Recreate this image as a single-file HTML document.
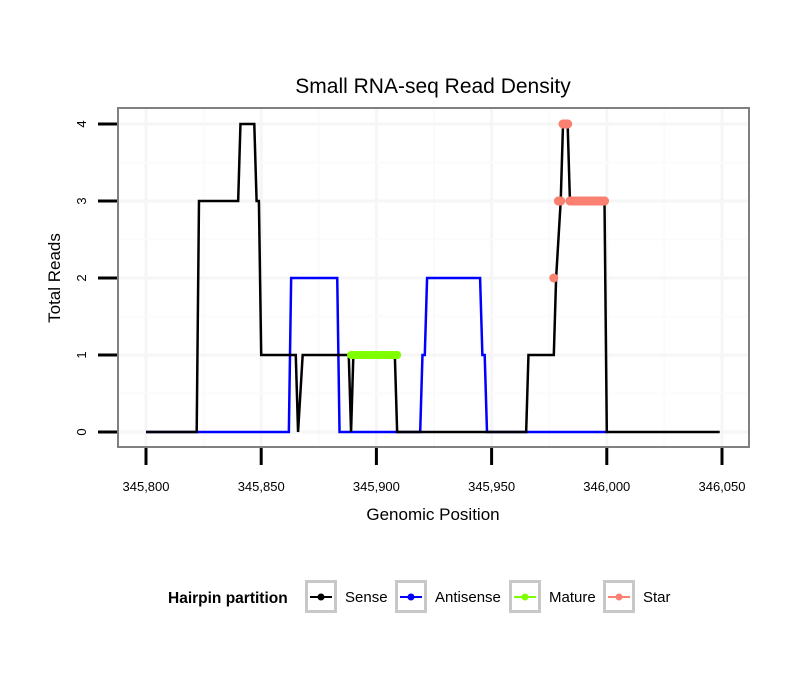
<!DOCTYPE html>
<html><head><meta charset="utf-8"><style>
body{margin:0;background:#fff}
svg text{font-family:"Liberation Sans",sans-serif}
</style></head><body>
<svg id="chart" width="810" height="690" xmlns="http://www.w3.org/2000/svg">
<rect width="810" height="690" fill="#fff"/>
<text x="433" y="93" font-size="21" text-anchor="middle">Small RNA-seq Read Density</text>
<g id="grid"></g>
<g id="series"></g>
<rect x="118" y="108" width="631" height="339" fill="none" stroke="#808080" stroke-width="2"/>
<g id="axes"></g>
<text x="433" y="520" font-size="17" text-anchor="middle">Genomic Position</text>
<text transform="translate(60,278) rotate(-90)" font-size="17" text-anchor="middle">Total Reads</text>
<g id="legend">
<text x="168" y="603" font-size="15.5" font-weight="bold">Hairpin partition</text>
</g>
</svg>
<script>
const xTicks=[345800,345850,345900,345950,346000,346050];
const xTickLabels=["345,800","345,850","345,900","345,950","346,000","346,050"];
const yTicks=[0,1,2,3,4];
const senseX=[345800,345822,345823,345840,345841,345847,345848,345849,345850,345865,345866,345868,345888,345889,345890,345908,345909,345965,345966,345977,345978,345980,345981,345983,345984,345999,346000,346049];
const senseY=[0,0,3,3,4,4,3,3,1,1,0,1,1,0,1,1,0,0,1,1,2,3,4,4,3,3,0,0];
const antiX=[345800,345862,345863,345883,345884,345919,345920,345921,345922,345945,345946,345947,345948,346000];
const antiY=[0,0,2,2,0,0,1,1,2,2,1,1,0,0];
const matureX=[345889,345909];
const matureY=[1,1];
const starX=[345977,345979,345980,345981,345983,345984,345999];
const starY=[2,3,3,4,4,3,3];
const NS="http://www.w3.org/2000/svg";
const xs=v=>146+(v-345800)*2.304;
const ys=v=>432-v*77;
function mk(t,a,p){const e=document.createElementNS(NS,t);for(const k in a)e.setAttribute(k,a[k]);p.appendChild(e);return e;}
const grid=document.getElementById('grid'),axes=document.getElementById('axes'),ser=document.getElementById('series'),leg=document.getElementById('legend');
for(let i=0;i<xTicks.length;i++){
 const x=xs(xTicks[i]);
 let g=mk('line',{x1:x,x2:x,y1:108,y2:447,stroke:'#f6f6f6','stroke-width':3},grid);
 
 if(i<xTicks.length-1){const xm=xs((xTicks[i]+xTicks[i+1])/2);
 let m=mk('line',{x1:xm,x2:xm,y1:108,y2:447,stroke:'#fbfbfb','stroke-width':2},grid);
 }
 let t=mk('line',{x1:x,x2:x,y1:448,y2:465,stroke:'#000','stroke-width':3},axes);
 
 let l=mk('text',{x:x,y:491,'font-size':13,'text-anchor':'middle'},axes);l.textContent=xTickLabels[i];
 
}
for(let i=0;i<yTicks.length;i++){
 const y=ys(yTicks[i]);
 let g=mk('line',{x1:118,x2:749,y1:y,y2:y,stroke:'#f6f6f6','stroke-width':3},grid);
 
 if(i<yTicks.length-1){const ym=ys(yTicks[i]+0.5);
 let m=mk('line',{x1:118,x2:749,y1:ym,y2:ym,stroke:'#fbfbfb','stroke-width':2},grid);
 }
 let t=mk('line',{x1:98,x2:117,y1:y,y2:y,stroke:'#000','stroke-width':3},axes);
 
 let l=mk('text',{transform:`translate(86,${y}) rotate(-90)`,'font-size':13,'text-anchor':'middle'},axes);l.textContent=yTicks[i];
 
}
function path(X,Y){return X.map((v,i)=>(i?'L':'M')+xs(v)+','+ys(Y[i])).join('');}
let p1=mk('path',{d:path(antiX,antiY),fill:'none',stroke:'#0000ff','stroke-width':2.5},ser);

let p0=mk('path',{d:path(senseX,senseY),fill:'none',stroke:'#000','stroke-width':2.5},ser);

for(let i=0;i<matureX.length-1;i++){
 let s=mk('line',{x1:xs(matureX[i]),x2:xs(matureX[i+1]),y1:ys(matureY[i]),y2:ys(matureY[i+1]),stroke:'#7fff00','stroke-width':8,'stroke-linecap':'round'},ser);
 
}
for(let i=0;i<starX.length;i++){
 let c=mk('circle',{cx:xs(starX[i]),cy:ys(starY[i]),r:4.5,fill:'#fa8072'},ser);
 
 if(i<starX.length-1&&starY[i]==starY[i+1]){
  let s=mk('line',{x1:xs(starX[i]),x2:xs(starX[i+1]),y1:ys(starY[i]),y2:ys(starY[i]),stroke:'#fa8072','stroke-width':9,'stroke-linecap':'round'},ser);
  
 }
}
const legNames=["Sense","Antisense","Mature","Star"],legColors=["#000","#0000ff","#7fff00","#fa8072"],legBox=[305,395,509,603];
for(let i=0;i<4;i++){
 const bx=legBox[i];
 let r=mk('rect',{x:bx+1.5,y:581.5,width:29,height:30,fill:'#fff',stroke:'#c8c8c8','stroke-width':3},leg);
 
 let l=mk('line',{x1:bx+5,x2:bx+27,y1:597,y2:597,stroke:legColors[i],'stroke-width':2},leg);
 
 let c=mk('circle',{cx:bx+16,cy:597,r:3.5,fill:legColors[i]},leg);
 
 let t=mk('text',{x:bx+40,y:602,'font-size':15},leg);t.textContent=legNames[i];
 
}
</script>
</body></html>
